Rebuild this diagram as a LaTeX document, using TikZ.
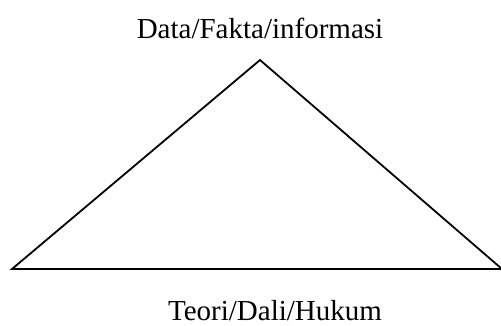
\documentclass[tikz,border=0pt]{standalone}
\usepackage{fontspec}
\setmainfont{Liberation Serif}
\begin{document}
\begin{tikzpicture}[x=1pt,y=-1pt]
\tikzset{label/.style={font=\fontsize{29}{33}\selectfont, inner sep=0pt, anchor=base}}

% Marco
\useasboundingbox (0,0) rectangle (501,325);

% Triangulo
\coordinate (top) at (260,60);
\coordinate (left) at (12,269);
\coordinate (right) at (502,269);
\draw[line width=1.8pt, line join=miter] (left) -- (top) -- (right) -- cycle;

% Textos
\node[label] (data) at (260,38) {Data/Fakta/informasi};
\node[label] (teori) at (275,320) {Teori/Dali/Hukum};

\end{tikzpicture}
\end{document}
